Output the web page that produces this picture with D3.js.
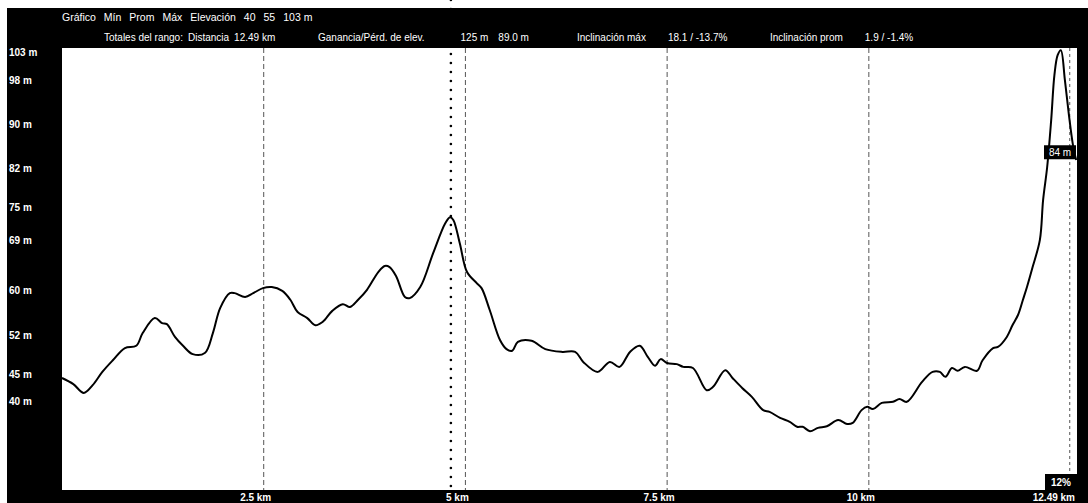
<!DOCTYPE html>
<html>
<head>
<meta charset="utf-8">
<script src="https://cdn.jsdelivr.net/npm/d3@7"></script>
<style>
  body { margin: 0; background: #fff; }
  text { font-family: "Liberation Sans", Arial, sans-serif; fill: #fff; }
</style>
</head>
<body>
<script>
// perfil de elevación: distancia (km) y elevación (m)
const distKm = [0, 0.14, 0.27, 0.38, 0.50, 0.63, 0.78, 0.92, 1.00, 1.15, 1.24, 1.30, 1.40, 1.50, 1.62, 1.77,
  1.87, 1.96, 2.08, 2.14, 2.27, 2.37, 2.49, 2.60, 2.73, 2.83, 2.92, 3.04, 3.14, 3.23, 3.35, 3.48, 3.57,
  3.67, 3.78, 3.92, 4.00, 4.06, 4.14, 4.25, 4.31, 4.44, 4.60, 4.75, 4.81, 4.85, 4.93, 5.02, 5.14, 5.20,
  5.30, 5.43, 5.51, 5.58, 5.65, 5.82, 5.99, 6.20, 6.36, 6.46, 6.64, 6.79, 6.91, 7.04, 7.16, 7.26, 7.35,
  7.42, 7.50, 7.62, 7.70, 7.82, 7.99, 8.07, 8.22, 8.31, 8.43, 8.55, 8.69, 8.77, 8.90, 9.02, 9.11, 9.18,
  9.27, 9.37, 9.48, 9.62, 9.73, 9.80, 9.91, 9.98, 10.05, 10.16, 10.30, 10.38, 10.47, 10.66, 10.79, 10.88,
  10.95, 11.03, 11.10, 11.19, 11.34, 11.41, 11.54, 11.60, 11.71, 11.78, 11.85, 11.91, 11.96, 12.03, 12.12,
  12.16, 12.21, 12.26, 12.30, 12.34, 12.38, 12.43, 12.48, 12.53, 12.57];
const elevM = [44.2, 43.1, 41.5, 42.9, 45.3, 47.4, 49.6, 50.0, 52.3, 55.0, 54.1, 53.9, 51.6, 50.0, 48.5, 48.7,
  52.3, 56.8, 59.5, 59.5, 58.8, 59.5, 60.4, 60.6, 59.9, 58.3, 56.1, 55.0, 53.7, 54.3, 56.3, 57.5, 57.0,
  58.3, 60.1, 63.3, 64.4, 64.2, 62.6, 58.8, 58.6, 60.6, 66.7, 72.1, 73.2, 72.7, 68.5, 63.3, 61.3, 60.4,
  56.5, 51.0, 49.4, 49.1, 50.7, 50.9, 49.4, 48.9, 48.9, 47.1, 45.3, 47.1, 46.2, 48.9, 50.0, 48.0, 46.4,
  47.6, 46.9, 46.7, 46.2, 46.0, 42.0, 42.6, 45.6, 44.2, 42.4, 40.8, 38.4, 38.1, 37.0, 36.3, 35.4, 35.4,
  34.6, 35.2, 35.5, 36.6, 35.9, 36.1, 38.4, 39.0, 38.6, 39.7, 39.9, 40.4, 39.9, 43.5, 45.3, 45.3,
  44.4, 46.0, 45.5, 46.2, 45.5, 47.4, 49.6, 49.8, 51.6, 53.7, 55.6, 58.3, 60.6, 64.2, 69.1,
  76.3, 82.2, 90.7, 98.8, 102.4, 103.3, 97.9, 91.6, 86.2, 83.5];

const yTicks = [103, 98, 90, 82, 75, 69, 60, 52, 45, 40];
const xTicks = [2.5, 5, 7.5, 10];
const xTickLabels = ["2.5 km", "5 km", "7.5 km", "10 km"];
const endKm = 12.49;
const endLabel = "12.49 km";
const cursorKm = 4.82;
const endElevLabel = "84 m";
const endGradeLabel = "12%";

// encabezado: cada grupo es una lista de palabras
const header1 = [["Gráfico", "Mín", "Prom", "Máx", "Elevación", "40", "55", "103 m"]];
const header2 = [
  ["Totales del rango:", "Distancia", "12.49 km"],
  ["Ganancia/Pérd. de elev.", "125 m", "89.0 m"],
  ["Inclinación máx", "18.1 / -13.7%"],
  ["Inclinación prom", "1.9 / -1.4%"]
];
const header1X = [62];
const header2X = [104, 318, 577, 770];
const header1Gap = [[0, 8, 8, 8, 8, 8, 8, 8]];
const header2Gap = [[0, 5, 5], [0, 36, 10], [0, 22], [0, 22]];

const outerWidth = 1088;
const outerHeight = 503;
const plot = {left: 62, right: 1077, top: 48, bottom: 490};

const svg = d3.select('body')
  .append('svg')
  .attr('width', outerWidth)
  .attr('height', outerHeight);

// marco negro
svg.append('rect')
  .attr('x', 7).attr('y', 8)
  .attr('width', outerWidth - 7).attr('height', outerHeight - 8)
  .attr('fill', '#000');
svg.append('rect')
  .attr('x', plot.left).attr('y', plot.top)
  .attr('width', plot.right - plot.left).attr('height', plot.bottom - plot.top)
  .attr('fill', '#fff');

const x = d3.scaleLinear().domain([0, 12.58]).range([plot.left, plot.right]);
const y = d3.scaleLinear().domain([24, 103.7]).range([plot.bottom, plot.top]);

// líneas de la cuadrícula
svg.append('g')
  .selectAll('line')
  .data(xTicks)
  .join('line')
  .attr('x1', d => x(d)).attr('x2', d => x(d))
  .attr('y1', plot.top).attr('y2', plot.bottom)
  .attr('stroke', '#555')
  .attr('stroke-width', 1)
  .attr('stroke-dasharray', '5,3');

svg.append('line')
  .attr('x1', x(endKm)).attr('x2', x(endKm))
  .attr('y1', plot.top).attr('y2', plot.bottom)
  .attr('stroke', '#555')
  .attr('stroke-dasharray', '3,3');

// cursor en el punto más alto del tramo
const cursorIdx = distKm.indexOf(cursorKm);
svg.append('line')
  .attr('x1', x(cursorKm)).attr('x2', x(cursorKm))
  .attr('y1', y(elevM[cursorIdx]) + 4).attr('y2', plot.bottom)
  .attr('stroke', '#000')
  .attr('stroke-width', 2.6)
  .attr('stroke-linecap', 'round')
  .attr('stroke-dasharray', '0,9');

const points = distKm.map((d, i) => [d, elevM[i]]);
const line = d3.line()
  .x(d => x(d[0]))
  .y(d => y(d[1]))
  .curve(d3.curveCatmullRom.alpha(0.5));

svg.append('path')
  .datum(points)
  .attr('d', line)
  .attr('fill', 'none')
  .attr('stroke', '#000')
  .attr('stroke-width', 2)
  .attr('stroke-linejoin', 'round');

// etiquetas del eje Y
svg.append('g')
  .selectAll('text')
  .data(yTicks)
  .join('text')
  .attr('x', 9)
  .attr('y', d => y(d) + 4)
  .attr('font-size', 10)
  .attr('font-weight', 'bold')
  .text(d => d + ' m');

// etiquetas del eje X
svg.append('g')
  .selectAll('text')
  .data(xTicks)
  .join('text')
  .attr('x', d => x(d) - 8)
  .attr('y', 501)
  .attr('text-anchor', 'middle')
  .attr('font-size', 10)
  .attr('font-weight', 'bold')
  .text((d, i) => xTickLabels[i]);

svg.append('text')
  .attr('x', plot.right - 2)
  .attr('y', 501)
  .attr('text-anchor', 'end')
  .attr('font-size', 10)
  .attr('font-weight', 'bold')
  .text(endLabel);

// cajas del final del recorrido
const endY = y(84) - 12;
svg.append('rect')
  .attr('x', plot.right - 33).attr('y', endY)
  .attr('width', 32).attr('height', 14)
  .attr('fill', '#000');
svg.append('text')
  .attr('x', plot.right - 17).attr('y', endY + 11)
  .attr('text-anchor', 'middle')
  .attr('font-size', 10)
  .text(endElevLabel);

svg.append('rect')
  .attr('x', plot.right - 32).attr('y', plot.bottom - 16)
  .attr('width', 32).attr('height', 16)
  .attr('fill', '#000');
svg.append('text')
  .attr('x', plot.right - 16).attr('y', plot.bottom - 4)
  .attr('text-anchor', 'middle')
  .attr('font-size', 10)
  .attr('font-weight', 'bold')
  .text(endGradeLabel);

// encabezado
function headerRow(groups, xs, gaps, yPos, size) {
  groups.forEach((words, g) => {
    const t = svg.append('text')
      .attr('x', xs[g])
      .attr('y', yPos)
      .attr('font-size', size);
    t.selectAll('tspan')
      .data(words)
      .join('tspan')
      .attr('dx', (d, i) => gaps[g][i])
      .text(d => d);
  });
}
headerRow(header1, header1X, header1Gap, 21, 10.5);
headerRow(header2, header2X, header2Gap, 41, 10);
</script>
</body>
</html>
